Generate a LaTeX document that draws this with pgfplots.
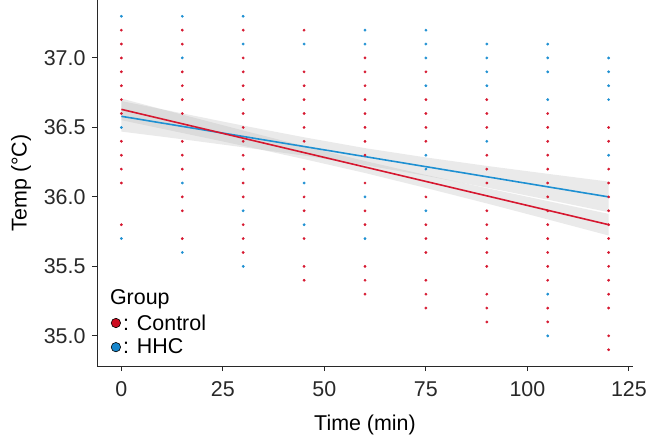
\documentclass[border=0pt]{standalone}
\usepackage{fontspec}
\setmainfont{Liberation Sans}
\usepackage{pgfplots}
\pgfplotsset{compat=1.18}
\definecolor{ctrl}{RGB}{214,24,48}
\definecolor{hhc}{RGB}{30,144,210}
\definecolor{ctrlleg}{RGB}{205,12,32}
\definecolor{hhcleg}{RGB}{22,134,204}
\definecolor{axcol}{RGB}{40,40,40}
\begin{document}
\begin{tikzpicture}
\begin{axis}[
  at={(0,0)}, anchor=south west,
  width=536bp, height=366bp, scale only axis,
  xmin=-6, xmax=126, ymin=34.783, ymax=37.417,
  axis lines=left,
  axis line style={-, line width=0.9bp, axcol},
  tick style={line width=0.9bp, axcol},
  tick align=outside, major tick length=5bp,
  xtick={0,25,50,75,100,125},
  ytick={35,35.5,36,36.5,37},
  yticklabel style={/pgf/number format/fixed, /pgf/number format/fixed zerofill, /pgf/number format/precision=1, xshift=-3bp},
  xticklabel style={yshift=-7bp},
  /pgf/number format/assume math mode=true,
  tick label style={font=\fontsize{21.5}{25}\selectfont, text=axcol},
  label style={font=\fontsize{21.5}{25}\selectfont, text=black},
  xlabel={Time (min)}, ylabel={Temp (°C)},
  xlabel shift=11bp, ylabel shift=6bp,
  clip=false,
  legend style={at={(rel axis cs:0.02,0.150)}, anchor=north west, draw=none, fill=none,
    font=\fontsize{21.5}{25}\selectfont, row sep=5bp, column sep=1bp,
    nodes={inner sep=1.2bp}},
  legend cell align=left,
]
\addlegendimage{legend image code/.code={\filldraw[fill=ctrlleg, draw=black, line width=0.6bp] (4.5bp,0) circle (4.7bp);}}
\addlegendentry{: Control}
\addlegendimage{legend image code/.code={\filldraw[fill=hhcleg, draw=black, line width=0.6bp] (4.5bp,0) circle (4.7bp);}}
\addlegendentry{: HHC}

% Control points
\addplot[forget plot, only marks, mark=*, mark size=1.2bp, color=ctrl, mark options={draw=none, fill=ctrl}] coordinates {
(0,37.2)(0,37.1)(0,37.0)(0,36.9)(0,36.8)(0,36.7)(0,36.6)(0,36.4)(0,36.3)(0,36.2)(0,36.1)(0,35.8)
(15,37.2)(15,37.1)(15,36.9)(15,36.8)(15,36.7)(15,36.6)(15,36.4)(15,36.3)(15,36.2)(15,36.0)(15,35.9)(15,35.7)
(30,37.2)(30,37.0)(30,36.9)(30,36.8)(30,36.7)(30,36.6)(30,36.5)(30,36.4)(30,36.3)(30,36.2)(30,36.1)(30,36.0)(30,35.8)(30,35.7)(30,35.6)
(45,37.2)(45,36.9)(45,36.8)(45,36.7)(45,36.6)(45,36.5)(45,36.4)(45,36.2)(45,36.0)(45,35.9)(45,35.7)(45,35.5)(45,35.4)
(60,37.0)(60,36.9)(60,36.8)(60,36.7)(60,36.6)(60,36.5)(60,36.4)(60,36.3)(60,36.1)(60,35.9)(60,35.8)(60,35.5)(60,35.4)(60,35.3)
(75,36.9)(75,36.7)(75,36.6)(75,36.5)(75,36.4)(75,36.0)(75,35.8)(75,35.7)(75,35.6)(75,35.4)(75,35.3)(75,35.2)
(90,36.7)(90,36.6)(90,36.5)(90,36.3)(90,36.2)(90,36.1)(90,35.9)(90,35.8)(90,35.7)(90,35.6)(90,35.5)(90,35.3)(90,35.2)(90,35.1)
(105,36.6)(105,36.5)(105,36.4)(105,36.3)(105,36.2)(105,36.1)(105,36.0)(105,35.9)(105,35.8)(105,35.7)(105,35.6)(105,35.5)(105,35.4)(105,35.2)(105,35.1)
(120,36.5)(120,36.4)(120,36.2)(120,36.1)(120,36.0)(120,35.9)(120,35.8)(120,35.7)(120,35.6)(120,35.5)(120,35.4)(120,35.3)(120,35.2)(120,35.0)(120,34.9)
};
% HHC points
\addplot[forget plot, only marks, mark=*, mark size=1.2bp, color=hhc, mark options={draw=none, fill=hhc}] coordinates {
(0,37.3)(0,36.5)(0,35.7)
(15,37.3)(15,37.0)(15,36.1)(15,35.6)
(30,37.3)(30,37.1)(30,35.9)(30,35.5)
(45,37.1)(45,36.1)(45,35.8)
(60,37.2)(60,37.1)(60,36.0)(60,35.7)
(75,37.2)(75,37.1)(75,37.0)(75,36.8)(75,36.3)(75,36.2)(75,35.9)
(90,37.1)(90,37.0)(90,36.9)(90,36.8)(90,36.4)
(105,37.1)(105,37.0)(105,36.9)(105,36.7)(105,35.3)(105,35.0)
(120,37.0)(120,36.9)(120,36.8)(120,36.7)(120,36.3)
};
% Confidence bands
\addplot[forget plot, draw=none, fill=gray!60, fill opacity=0.27] coordinates {
(0,36.690)(15,36.601)(30,36.513)(45,36.429)(60,36.351)(75,36.284)(90,36.223)(105,36.166)(120,36.110)
(120,35.890)(105,35.980)(90,36.067)(75,36.152)(60,36.229)(45,36.297)(30,36.357)(15,36.415)(0,36.470)
} -- cycle;
\addplot[forget plot, draw=none, fill=gray!60, fill opacity=0.27] coordinates {
(0,36.708)(15,36.592)(30,36.478)(45,36.366)(60,36.258)(75,36.158)(90,36.063)(105,35.970)(120,35.878)
(120,35.722)(105,35.838)(90,35.953)(75,36.064)(60,36.172)(45,36.272)(30,36.368)(15,36.460)(0,36.552)
} -- cycle;
% Regression lines
\addplot[forget plot, hhc, line width=1.6bp] coordinates {(0,36.58)(120,36.00)};
\addplot[forget plot, ctrl, line width=1.6bp] coordinates {(0,36.63)(120,35.80)};
\node[anchor=west, font=\fontsize{21.5}{25}\selectfont, inner sep=0pt] at (rel axis cs:0.024,0.183) {Group};
\end{axis}
\pgfresetboundingbox
\path[use as bounding box] (-97bp,-72bp) rectangle (550bp,366bp);
\end{tikzpicture}
\end{document}
